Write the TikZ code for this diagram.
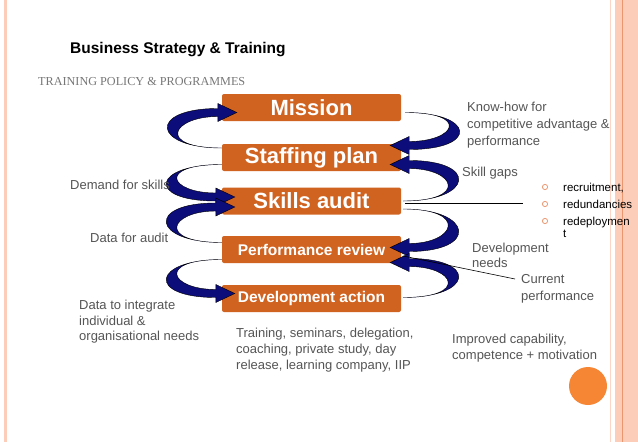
\documentclass[tikz,border=0pt]{standalone}
\usepackage{fontspec}
\setmainfont{Liberation Sans}
\newfontfamily\slideserif{Liberation Serif}
\usetikzlibrary{calc}
\definecolor{boxorange}{RGB}{209,99,33}
\definecolor{swirlblue}{RGB}{12,12,122}
\definecolor{txtgray}{RGB}{85,85,85}
\definecolor{peach}{RGB}{252,206,186}
\definecolor{peachdark}{RGB}{235,150,110}
\definecolor{dotorange}{RGB}{246,134,52}
%% curved tapered arrow: #1 start, #2 head base, #3 side (1 = left, -1 = right), #4 head up (-1) or down (1)
\newcommand\swirl[4]{%
  \filldraw[swirlblue, draw=black, line width=0.4pt] (#1)
    .. controls ($(#1)+({-70*(#3)},0)$) and ($(#2)+({-70*(#3)},{4*(#4)})$) .. ($(#2)+(0,{4*(#4)})$)
    -- ($(#2)+(0,{9*(#4)})$) -- ($(#2)+({19*(#3)},0)$) -- ($(#2)+(0,{-9*(#4)})$) -- ($(#2)+(0,{-4*(#4)})$)
    .. controls ($(#2)+({-46*(#3)},{-4*(#4)})$) and ($(#1)+({-66*(#3)},0)$) .. (#1) -- cycle;}
\tikzset{
  stage/.style={fill=boxorange, text=white, rounded corners=2pt, minimum width=179pt, minimum height=27pt, inner sep=0pt},
  bigstage/.style={stage, font=\fontsize{22}{22}\selectfont\bfseries},
  smallstage/.style={stage, font=\fontsize{15.5}{15.5}\selectfont\bfseries},
  note/.style={text=txtgray, font=\fontsize{13}{16}\selectfont, align=left, anchor=base west, inner sep=0pt},
  bullet/.style={text=black, font=\fontsize{11.5}{12}\selectfont, align=left, anchor=base west, inner sep=0pt}
}
\begin{document}
\begin{tikzpicture}[x=1pt, y=-1pt]
  \fill[white] (0,0) rectangle (638,442);
  \useasboundingbox (0,0) rectangle (638,442);
  %% slide borders
  \fill[peach] (4,0) rectangle (7,442);
  \fill[peach!85] (609.5,0) rectangle (611,442);
  \fill[peach] (615,0) rectangle (638,442);
  \fill[peachdark] (621.5,0) rectangle (622.5,442);
  \fill[dotorange] (588,386) circle (19);
  %% headings
  \node[anchor=base west, inner sep=0pt, font=\fontsize{15.5}{15.5}\selectfont\bfseries] (title) at (70,53.5) {Business Strategy \& Training};
  \node[anchor=base west, inner sep=0pt, text=txtgray!80, font=\slideserif\fontsize{12.2}{12.2}\selectfont] (sub) at (38,85) {TRAINING POLICY \& PROGRAMMES};
  %% the five stages
  \node[bigstage] (mission) at (311.5,107.5) {Mission};
  \node[bigstage] (staff) at (311.5,157.5) {Staffing plan};
  \node[bigstage] (skills) at (311.5,201) {Skills audit};
  \node[smallstage] (perf) at (311.5,249.5) {Performance review};
  \node[smallstage] (dev) at (311.5,298.5) {Development action};
  %% left loops
  \swirl{$(staff.west)+(0,-9.5)$}{$(mission.west)+(-4,5)$}{1}{-1}
  \swirl{$(staff.west)+(0,7)$}{$(skills.west)+(-6,-4)$}{1}{1}
  \swirl{$(perf.west)+(0,-7)$}{$(skills.west)+(-6,6)$}{1}{-1}
  \swirl{$(perf.west)+(0,10)$}{$(dev.west)+(-6,-5)$}{1}{1}
  %% right loops
  \swirl{$(mission.east)+(4,5)$}{$(staff.east)+(8,-12)$}{-1}{1}
  \swirl{$(skills.east)+(2,0)$}{$(staff.east)+(8,7)$}{-1}{-1}
  \swirl{$(skills.east)+(2,8)$}{$(perf.east)+(8,-2)$}{-1}{1}
  \swirl{$(dev.east)+(2,-1)$}{$(perf.east)+(8,13)$}{-1}{-1}
  %% left notes (multi-line nodes sit on their last baseline)
  \node[note] (demand) at (70,189.5) {Demand for skills};
  \node[note] (audit) at (90,242.5) {Data for audit};
  \node[note, font=\fontsize{13}{15.5}\selectfont] (integ) at (79,340.5) {Data to integrate\\individual \&\\organisational needs};
  %% right notes
  \node[note, font=\fontsize{13}{17}\selectfont] (knowhow) at (467,145.5) {Know-how for\\competitive advantage \&\\performance};
  \node[note] (gaps) at (462,176.5) {Skill gaps};
  \node[note, font=\fontsize{13}{15}\selectfont] (devneeds) at (472,267.5) {Development\\needs};
  \node[note, font=\fontsize{13}{16.5}\selectfont] (current) at (521,300) {Current\\performance};
  \node[note] (improved) at (452,359.5) {Improved capability,\\competence + motivation};
  \node[note] (training) at (236,369.5) {Training, seminars, delegation,\\coaching, private study, day\\release, learning company, IIP};
  %% bullet list
  \foreach \yy in {191, 208, 225}
    \draw[peachdark, line width=0.8pt] (545,\yy-4) circle (2.6);
  \node[bullet] (recr) at (563,191) {recruitment,};
  \node[bullet] (redu) at (563,208) {redundancies};
  \node[bullet] (rede) at (563,237) {redeploymen\\t};
  %% pointer lines
  \coordinate (gapend) at (523,203);
  \coordinate (curend) at (515,279);
  \draw[line width=0.8pt] ($(skills.east)+(4,2)$) -- (gapend);
  \draw[line width=0.6pt] ($(perf.east)+(2,6.5)$) -- (curend);
\end{tikzpicture}
\end{document}
